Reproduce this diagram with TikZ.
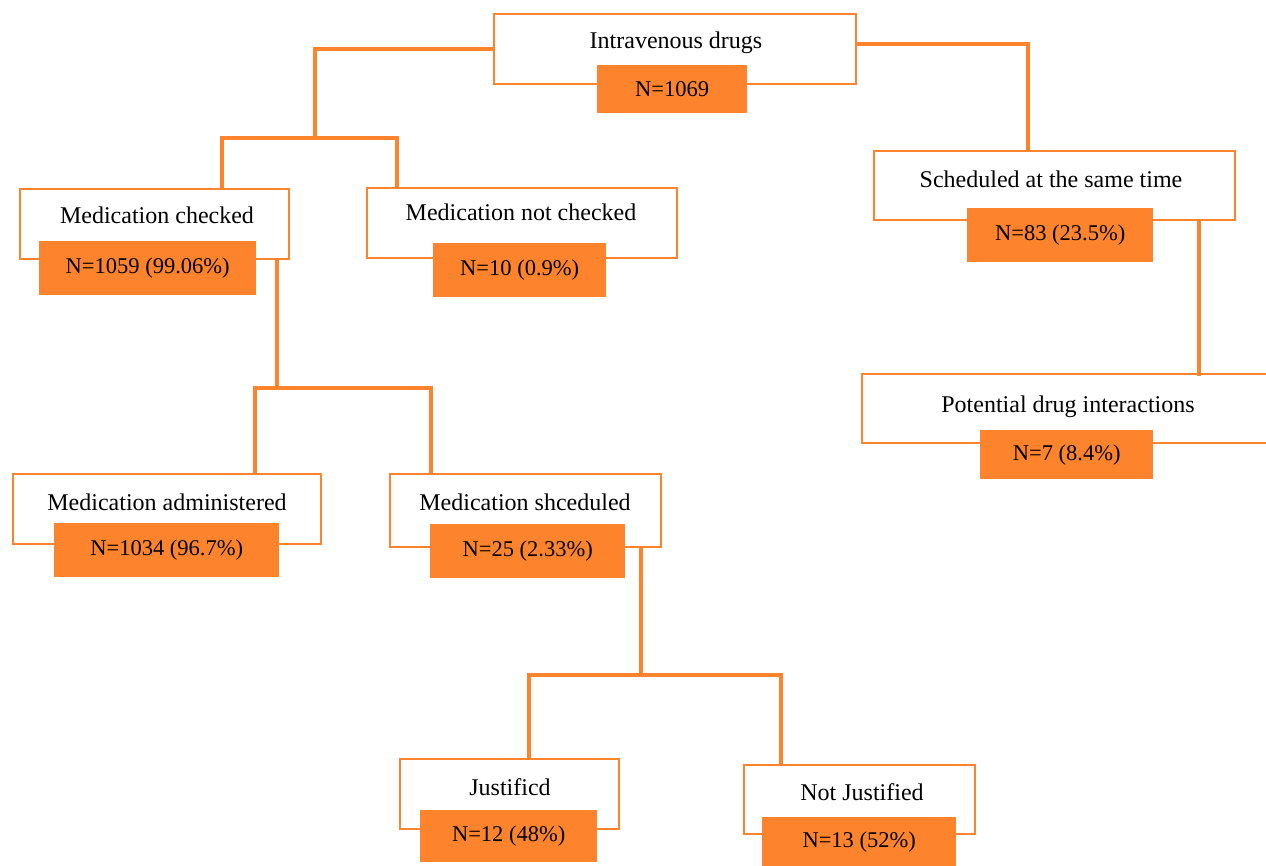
\documentclass[tikz,border=0pt]{standalone}
\usepackage{fontspec}
\setmainfont{Liberation Serif}
\definecolor{org}{RGB}{253,132,44}
\tikzset{
  wbox/.style={draw=org, line width=2pt, fill=white, inner sep=0pt, anchor=north west},
  obox/.style={fill=org, draw=none, inner sep=0pt, anchor=north west, font=\fontsize{22.5}{26}\selectfont},
  lbl/.style={inner sep=0pt, font=\fontsize{24}{28}\selectfont},
  conn/.style={draw=org, line width=3.3pt, line cap=rect}
}
\begin{document}
\begin{tikzpicture}[x=1pt,y=-1pt]
\useasboundingbox (0,0) rectangle (1266,866);
% boxes
\node[wbox, minimum width=362pt, minimum height=70pt] (iv) at (493,13) {};
\node[lbl] (ivt) at (676,43) {Intravenous drugs};
\node[obox, minimum width=150pt, minimum height=48pt] (ivn) at (597,65) {N=1069};

\node[wbox, minimum width=269pt, minimum height=70pt] (mc) at (19,188) {};
\node[lbl] (mct) at (157,215) {Medication checked};
\node[obox, minimum width=217pt, minimum height=54pt] (mcn) at (39,241) {N=1059 (99.06\%)};

\node[wbox, minimum width=310pt, minimum height=70pt] (mnc) at (366,187) {};
\node[lbl] (mnct) at (521,212) {Medication not checked};
\node[obox, minimum width=173pt, minimum height=54pt] (mncn) at (433,243) {N=10 (0.9\%)};

\node[wbox, minimum width=361pt, minimum height=69pt] (sat) at (873,150) {};
\node[lbl] (satt) at (1051,179) {Scheduled at the same time};
\node[obox, minimum width=186pt, minimum height=54pt] (satn) at (967,208) {N=83 (23.5\%)};

\node[wbox, minimum width=420pt, minimum height=69pt] (pdi) at (861,373) {};
\node[lbl] (pdit) at (1068,407) {Potential drug interactions};
\node[obox, minimum width=173pt, minimum height=49pt] (pdin) at (980,430) {N=7 (8.4\%)};

\node[wbox, minimum width=308pt, minimum height=70pt] (ma) at (12,473) {};
\node[lbl] (mat) at (167,502) {Medication administered};
\node[obox, minimum width=225pt, minimum height=54pt] (man) at (54,523) {N=1034 (96.7\%)};

\node[wbox, minimum width=271pt, minimum height=73pt] (ms) at (389,473) {};
\node[lbl] (mst) at (525,502) {Medication shceduled};
\node[obox, minimum width=195pt, minimum height=54pt] (msn) at (430,524) {N=25 (2.33\%)};

\node[wbox, minimum width=219pt, minimum height=70pt] (ju) at (399,758) {};
\node[lbl] (jut) at (510,787) {Justificd};
\node[obox, minimum width=177pt, minimum height=52pt] (jun) at (420,810) {N=12 (48\%)};

\node[wbox, minimum width=231pt, minimum height=69pt] (nj) at (743,764) {};
\node[lbl] (njt) at (862,792) {Not Justified};
\node[obox, minimum width=194pt, minimum height=50pt] (njn) at (762,817) {N=13 (52\%)};

% junction coordinates
\coordinate (j1) at (315,138);
\coordinate (j1a) at (222,138);
\coordinate (j1b) at (397,138);
\coordinate (j2) at (1028,44);
\coordinate (j3) at (277,388);
\coordinate (j3a) at (255,388);
\coordinate (j3b) at (431,388);
\coordinate (j4) at (641,675);
\coordinate (j4a) at (529,675);
\coordinate (j4b) at (781,675);

% connectors
\draw[conn] (iv.west |- 0,49) -| (j1);
\draw[conn] (j1a |- mc.north) -- (j1a) -- (j1b) -- (j1b |- mnc.north);

\draw[conn] (iv.east |- 0,44) -| (j2) -- (j2 |- sat.north);

\draw[conn] (sat.south -| 1199,0) -- (1199,374) coordinate (pdiin);

\draw[conn] (mc.south -| j3) -- (j3);
\draw[conn] (j3a |- ma.north) -- (j3a) -- (j3b) -- (j3b |- ms.north);

\draw[conn] (ms.south -| j4) -- (j4);
\draw[conn] (j4a |- ju.north) -- (j4a) -- (j4b) -- (j4b |- nj.north);
\end{tikzpicture}
\end{document}
